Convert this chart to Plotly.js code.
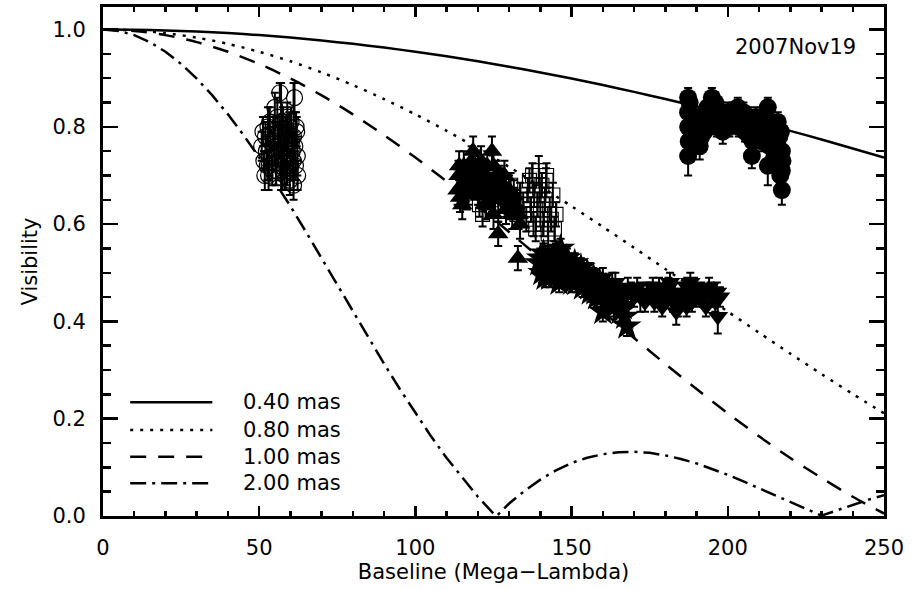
<!DOCTYPE html>
<html>
<head>
<meta charset="utf-8">
<script src="https://cdn.plot.ly/plotly-3.0.1.min.js"></script>
<style>
  html, body { margin: 0; padding: 0; background: #fff; }
  #chart { width: 920px; height: 589px; }
</style>
</head>
<body>
<div id="chart"></div>
<script>
// Uniform-disk model visibilities, sampled along the baseline (Mega-Lambda)
const baseline10 = [0,10,20,30,40,50,60,70,80,90,100,110,120,130,140,150,160,170,180,190,200,210,220,230,240,250];
const vis040 = [1,0.9995,0.9982,0.9958,0.9926,0.9885,0.9834,0.9774,0.9706,0.9629,0.9543,0.9449,0.9347,0.9236,0.9118,0.8992,0.8858,0.8718,0.8570,0.8416,0.8256,0.8089,0.7917,0.7739,0.7555,0.7368];
const vis080 = [1,0.9982,0.9926,0.9834,0.9706,0.9543,0.9347,0.9118,0.8858,0.8570,0.8256,0.7917,0.7555,0.7175,0.6778,0.6367,0.5944,0.5514,0.5078,0.4640,0.4202,0.3768,0.3338,0.2918,0.2508,0.2112];
const vis100 = [1,0.9971,0.9885,0.9741,0.9543,0.9292,0.8992,0.8645,0.8256,0.7828,0.7368,0.6878,0.6367,0.5838,0.5297,0.4750,0.4202,0.3660,0.3127,0.2610,0.2112,0.1638,0.1192,0.0782,0.0396,0.0051];
const baseline200 = [0,5,10,15,20,25,30,35,40,45,50,55,60,65,70,75,80,85,90,95,100,105,110,115,120,125,126,130,135,140,145,150,155,160,165,170,175,180,185,190,195,200,205,210,215,220,225,230,235,240,245,250];
const vis200 = [1,0.9971,0.9885,0.9741,0.9543,0.9292,0.8992,0.8645,0.8256,0.7828,0.7368,0.6878,0.6367,0.5838,0.5297,0.4750,0.4202,0.3660,0.3127,0.2610,0.2112,0.1638,0.1192,0.0782,0.0396,0.0051,0,0.0257,0.0518,0.0748,0.0939,0.1090,0.1198,0.1270,0.1312,0.1320,0.1299,0.1246,0.1172,0.1081,0.0970,0.0846,0.0711,0.0568,0.0428,0.0284,0.0143,0.0008,0.0117,0.0233,0.0336,0.0427];

const modelLabels = ['0.40 mas', '0.80 mas', '1.00 mas', '2.00 mas'];

// Measured visibilities, one group per baseline
const openCircX = [50.8,51.5,52.0,52.3,52.8,53.2,53.6,54.0,54.5,55.0,55.4,55.8,56.2,56.6,57.0,57.4,57.8,58.2,58.6,59.0,59.4,59.8,60.2,60.6,61.0,61.3,61.6,62.0,62.2,53.0,55.0,59.0,61.0,57.5,
  51.2,51.8,52.6,53.4,54.2,54.8,55.6,56.4,56.9,57.6,58.0,58.4,58.9,59.6,60.0,60.4,60.9,61.4,61.8,62.3];
const openCircY = [0.76,0.73,0.78,0.75,0.80,0.72,0.77,0.74,0.79,0.76,0.71,0.82,0.75,0.87,0.78,0.73,0.76,0.70,0.79,0.74,0.77,0.69,0.81,0.75,0.78,0.86,0.72,0.79,0.74,0.70,0.84,0.82,0.68,0.71,
  0.79,0.70,0.72,0.81,0.71,0.77,0.74,0.79,0.72,0.81,0.74,0.78,0.71,0.80,0.72,0.77,0.73,0.76,0.80,0.70];
const openCircErr = [0.03,0.02,0.03,0.03,0.04,0.03,0.02,0.03,0.03,0.04,0.03,0.04,0.03,0.02,0.11,0.03,0.04,0.03,0.03,0.04,0.03,0.03,0.03,0.04,0.11,0.03,0.03,0.03,0.04,0.03,0.03,0.03,0.03,0.04,
  0.03,0.03,0.03,0.03,0.03,0.03,0.03,0.03,0.03,0.03,0.03,0.03,0.03,0.03,0.03,0.03,0.03,0.03,0.03,0.03];

const triUpX = [113.5,114.0,114.3,115.0,116.0,117.0,118.0,118.5,119.5,120.5,121.5,122.5,123.5,124.5,125.0,125.5,126.5,127.0,128.0,129.0,130.0,131.0,132.0,132.8,133.5,
  113.8,114.8,115.5,116.5,117.5,118.8,119.0,120.0,121.0,122.0,123.0,124.0,126.0,127.5,128.5,129.5,130.5,131.5,133.0,122.5,125.0];
const triUpY = [0.67,0.72,0.655,0.64,0.70,0.67,0.73,0.75,0.69,0.71,0.66,0.70,0.68,0.75,0.72,0.65,0.58,0.69,0.66,0.63,0.67,0.62,0.64,0.53,0.60,
  0.70,0.68,0.72,0.66,0.70,0.68,0.72,0.67,0.73,0.68,0.72,0.66,0.70,0.67,0.70,0.65,0.64,0.66,0.62,0.64,0.62];
const triUpErr = [0.03,0.03,0.03,0.03,0.03,0.03,0.03,0.03,0.03,0.03,0.03,0.03,0.03,0.03,0.03,0.03,0.025,0.03,0.03,0.03,0.03,0.03,0.03,0.025,0.03,
  0.03,0.03,0.03,0.03,0.03,0.03,0.03,0.03,0.03,0.03,0.03,0.03,0.03,0.03,0.03,0.03,0.03,0.03,0.03,0.03,0.03];

const openSqX = [120.5,121.5,122.5,123.5,124.5,125.5,126.5,127.5,128.5,129.5,130.5,131.5,132.5,133.5,134.5,135.5,
  136.0,136.5,137.0,137.5,138.0,138.5,139.0,139.5,140.0,140.5,141.0,141.5,142.0,142.5,143.0,143.5,144.0,144.5,145.0,139.8,141.8,137.8];
const openSqY = [0.64,0.62,0.66,0.68,0.65,0.67,0.63,0.69,0.66,0.64,0.68,0.65,0.62,0.66,0.64,0.61,
  0.67,0.69,0.63,0.70,0.66,0.59,0.64,0.71,0.62,0.68,0.60,0.65,0.70,0.58,0.63,0.61,0.66,0.59,0.62,0.67,0.69,0.60];
const openSqErr = [0.025,0.025,0.025,0.025,0.025,0.025,0.025,0.025,0.025,0.025,0.025,0.025,0.025,0.025,0.025,0.025,
  0.025,0.025,0.025,0.025,0.025,0.025,0.025,0.03,0.025,0.025,0.025,0.025,0.025,0.025,0.025,0.025,0.025,0.025,0.025,0.025,0.025,0.025];

const triDownX = [146,148,150,152,154,156,158,160,162,164,166,168,170,172,173.5,175,176.5,178,179.5,181,182.5,184,185.5,187,188.5,190,191.5,193,194.5,196,196.8,196.5,183.5,
  159,161,163,165,167,169,171,174.3,177.2,180.2,183,186.2,189.2,192.2,195.2,197.5,186.8,179,181.5,188,194,176];
const triDownY = [0.50,0.52,0.49,0.51,0.48,0.50,0.47,0.49,0.46,0.48,0.45,0.47,0.45,0.45,0.44,0.46,0.44,0.47,0.45,0.47,0.44,0.43,0.46,0.47,0.44,0.45,0.46,0.43,0.46,0.44,0.41,0.46,0.42,
  0.47,0.46,0.48,0.46,0.45,0.46,0.47,0.46,0.46,0.46,0.46,0.45,0.47,0.45,0.45,0.45,0.43,0.43,0.48,0.48,0.47,0.47];
const triDownErr = [0.02,0.02,0.02,0.02,0.02,0.02,0.02,0.02,0.02,0.02,0.02,0.02,0.02,0.03,0.02,0.02,0.02,0.02,0.02,0.02,0.02,0.02,0.02,0.02,0.02,0.02,0.02,0.02,0.02,0.02,0.035,0.02,0.027,
  0.02,0.02,0.02,0.02,0.02,0.02,0.02,0.02,0.02,0.02,0.02,0.02,0.02,0.02,0.02,0.02,0.02,0.02,0.02,0.02,0.02,0.02];

const starX = [139.5,140.5,141.0,142.0,143.0,144.0,144.5,145.5,146.0,147.0,148.0,148.5,149.5,150.5,151.5,152.5,153.5,154.5,155.5,156.5,157.5,158.5,159.5,160.5,161.5,162.5,163.5,164.5,165.5,166.5,167.7,160.0,146.5,
  140.0,141.5,142.5,143.5,145.0,147.5,149.0,150.0,151.0,152.0,153.0,155.0,156.0,157.0,158.0,159.0,161.0,163.0,165.0,167.0];
const starY = [0.52,0.50,0.54,0.51,0.49,0.53,0.50,0.52,0.48,0.51,0.50,0.53,0.49,0.51,0.48,0.50,0.47,0.49,0.47,0.48,0.46,0.47,0.45,0.46,0.44,0.45,0.43,0.44,0.42,0.43,0.39,0.42,0.55,
  0.53,0.49,0.53,0.51,0.54,0.49,0.52,0.48,0.52,0.49,0.51,0.50,0.46,0.49,0.45,0.48,0.47,0.46,0.45,0.41];
const starErr = [0.02,0.02,0.02,0.02,0.02,0.02,0.02,0.02,0.02,0.02,0.02,0.02,0.02,0.02,0.02,0.02,0.02,0.02,0.02,0.02,0.02,0.02,0.02,0.02,0.02,0.02,0.02,0.02,0.02,0.02,0.02,0.02,0.02,
  0.02,0.02,0.02,0.02,0.02,0.02,0.02,0.02,0.02,0.02,0.02,0.02,0.02,0.02,0.02,0.02,0.02,0.02,0.02,0.02];

const fillCircX = [187.3,187.3,187.3,187.5,187.3,191.0,191.0,192.5,194.9,195.5,197.0,198.4,199.5,200.5,201.5,203.2,204.0,205.5,206.5,207.7,208.5,209.5,210.5,212.8,212.8,212.8,213.5,215.0,216.5,217.3,217.3,217.3,216.0,
  187.8,188.5,189.5,190.0,191.5,193.5,194.0,196.0,196.5,198.0,199.0,200.0,201.0,202.5,203.5,205.0,206.0,207.0,208.0,209.0,210.0,211.0,211.8,213.0,214.0,214.5,216.0,217.0,217.5,216.8];
const fillCircY = [0.86,0.83,0.80,0.77,0.74,0.76,0.82,0.79,0.86,0.83,0.81,0.79,0.82,0.80,0.83,0.84,0.81,0.79,0.82,0.74,0.80,0.78,0.81,0.84,0.79,0.72,0.76,0.74,0.78,0.75,0.71,0.67,0.81,
  0.85,0.79,0.82,0.80,0.78,0.84,0.81,0.85,0.80,0.83,0.80,0.83,0.81,0.82,0.80,0.83,0.80,0.78,0.77,0.82,0.79,0.77,0.82,0.81,0.79,0.73,0.76,0.79,0.73,0.70];
const fillCircErr = [0.02,0.02,0.02,0.02,0.04,0.027,0.02,0.02,0.02,0.02,0.02,0.025,0.02,0.02,0.02,0.02,0.02,0.02,0.02,0.025,0.02,0.02,0.02,0.02,0.02,0.04,0.02,0.02,0.02,0.02,0.02,0.03,0.02,
  0.02,0.02,0.02,0.02,0.02,0.02,0.02,0.02,0.02,0.02,0.02,0.02,0.02,0.02,0.02,0.02,0.02,0.02,0.02,0.02,0.02,0.02,0.02,0.02,0.02,0.02,0.02,0.02,0.02,0.02];

const dateLabel = '2007Nov19';

const FONT = '"DejaVu Sans", "Liberation Sans", sans-serif';
const BLACK = '#000000';
const TXT = 21;

function modelTrace(x, y, dash, shape) {
  return {
    x: x, y: y, type: 'scatter', mode: 'lines',
    line: { color: BLACK, width: 2.5, dash: dash, shape: shape, smoothing: 0.8 },
    hoverinfo: 'skip', showlegend: false
  };
}

function pointTrace(x, y, err, symbol, size, lineWidth) {
  return {
    x: x, y: y, type: 'scatter', mode: 'markers',
    marker: { symbol: symbol, size: size, color: BLACK, line: { color: BLACK, width: lineWidth } },
    error_y: { type: 'data', array: err, visible: true, color: BLACK, thickness: 2, width: 4 },
    hoverinfo: 'skip', showlegend: false
  };
}

const dashes = ['solid', '3px,7px', '16px,12px', '16px,6px,3px,6px'];

const traces = [
  modelTrace(baseline10, vis040, dashes[0], 'spline'),
  modelTrace(baseline10, vis080, dashes[1], 'spline'),
  modelTrace(baseline10, vis100, dashes[2], 'spline'),
  modelTrace(baseline200, vis200, dashes[3], 'linear'),
  pointTrace(openCircX, openCircY, openCircErr, 'circle-open', 16, 1.2),
  pointTrace(triUpX, triUpY, triUpErr, 'triangle-up', 18, 0),
  pointTrace(openSqX, openSqY, openSqErr, 'square-open', 14, 1.1),
  pointTrace(triDownX, triDownY, triDownErr, 'triangle-down', 18, 0),
  pointTrace(starX, starY, starErr, 'star', 22, 0),
  pointTrace(fillCircX, fillCircY, fillCircErr, 'circle', 18, 0)
];

// Key in the lower-left corner: line sample + label per model diameter
const keyRows = [0.2337, 0.1768, 0.1219, 0.0672];
const shapes = keyRows.map((yy, i) => ({
  type: 'line', xref: 'x', yref: 'y', x0: 8.7, x1: 35.0, y0: yy, y1: yy,
  line: { color: BLACK, width: 2.5, dash: dashes[i] }
}));
const annotations = keyRows.map((yy, i) => ({
  xref: 'x', yref: 'y', x: 44.3, y: yy, text: modelLabels[i], showarrow: false,
  xanchor: 'left', yanchor: 'middle', font: { family: FONT, size: TXT, color: BLACK }
}));
annotations.push({
  xref: 'paper', yref: 'paper', x: 0.967, y: 0.921, text: dateLabel, showarrow: false,
  xanchor: 'right', yanchor: 'middle', font: { family: FONT, size: TXT, color: BLACK }
});

const axisCommon = {
  showline: true, linecolor: BLACK, linewidth: 3, mirror: 'ticks',
  ticks: 'inside', tickcolor: BLACK, tickwidth: 2.5,
  showgrid: false, zeroline: false, automargin: false,
  tickfont: { family: FONT, size: TXT, color: BLACK }
};

const layout = {
  width: 920, height: 589,
  margin: { l: 103, r: 36, t: 7, b: 73, pad: 0 },
  paper_bgcolor: '#ffffff', plot_bgcolor: '#ffffff',
  font: { family: FONT, color: BLACK },
  showlegend: false,
  xaxis: Object.assign({}, axisCommon, {
    range: [0, 250], tick0: 0, dtick: 50, ticklen: 10,
    minor: { dtick: 10, ticks: 'inside', ticklen: 5, tickwidth: 2.5, tickcolor: BLACK },
    ticklabelstandoff: 11,
    title: { text: 'Baseline (Mega\u2212Lambda)', font: { family: FONT, size: TXT, color: BLACK }, standoff: 4 }
  }),
  yaxis: Object.assign({}, axisCommon, {
    range: [0, 1.0463], tick0: 0, dtick: 0.2, tickformat: '.1f', ticklen: 15,
    minor: { dtick: 0.05, ticks: 'inside', ticklen: 8, tickwidth: 2.5, tickcolor: BLACK },
    ticklabelstandoff: 10,
    title: { text: 'Visibility', font: { family: FONT, size: TXT, color: BLACK }, standoff: 10 }
  }),
  shapes: shapes,
  annotations: annotations
};

Plotly.newPlot('chart', traces, layout, { displayModeBar: false, staticPlot: true });
</script>
</body>
</html>
